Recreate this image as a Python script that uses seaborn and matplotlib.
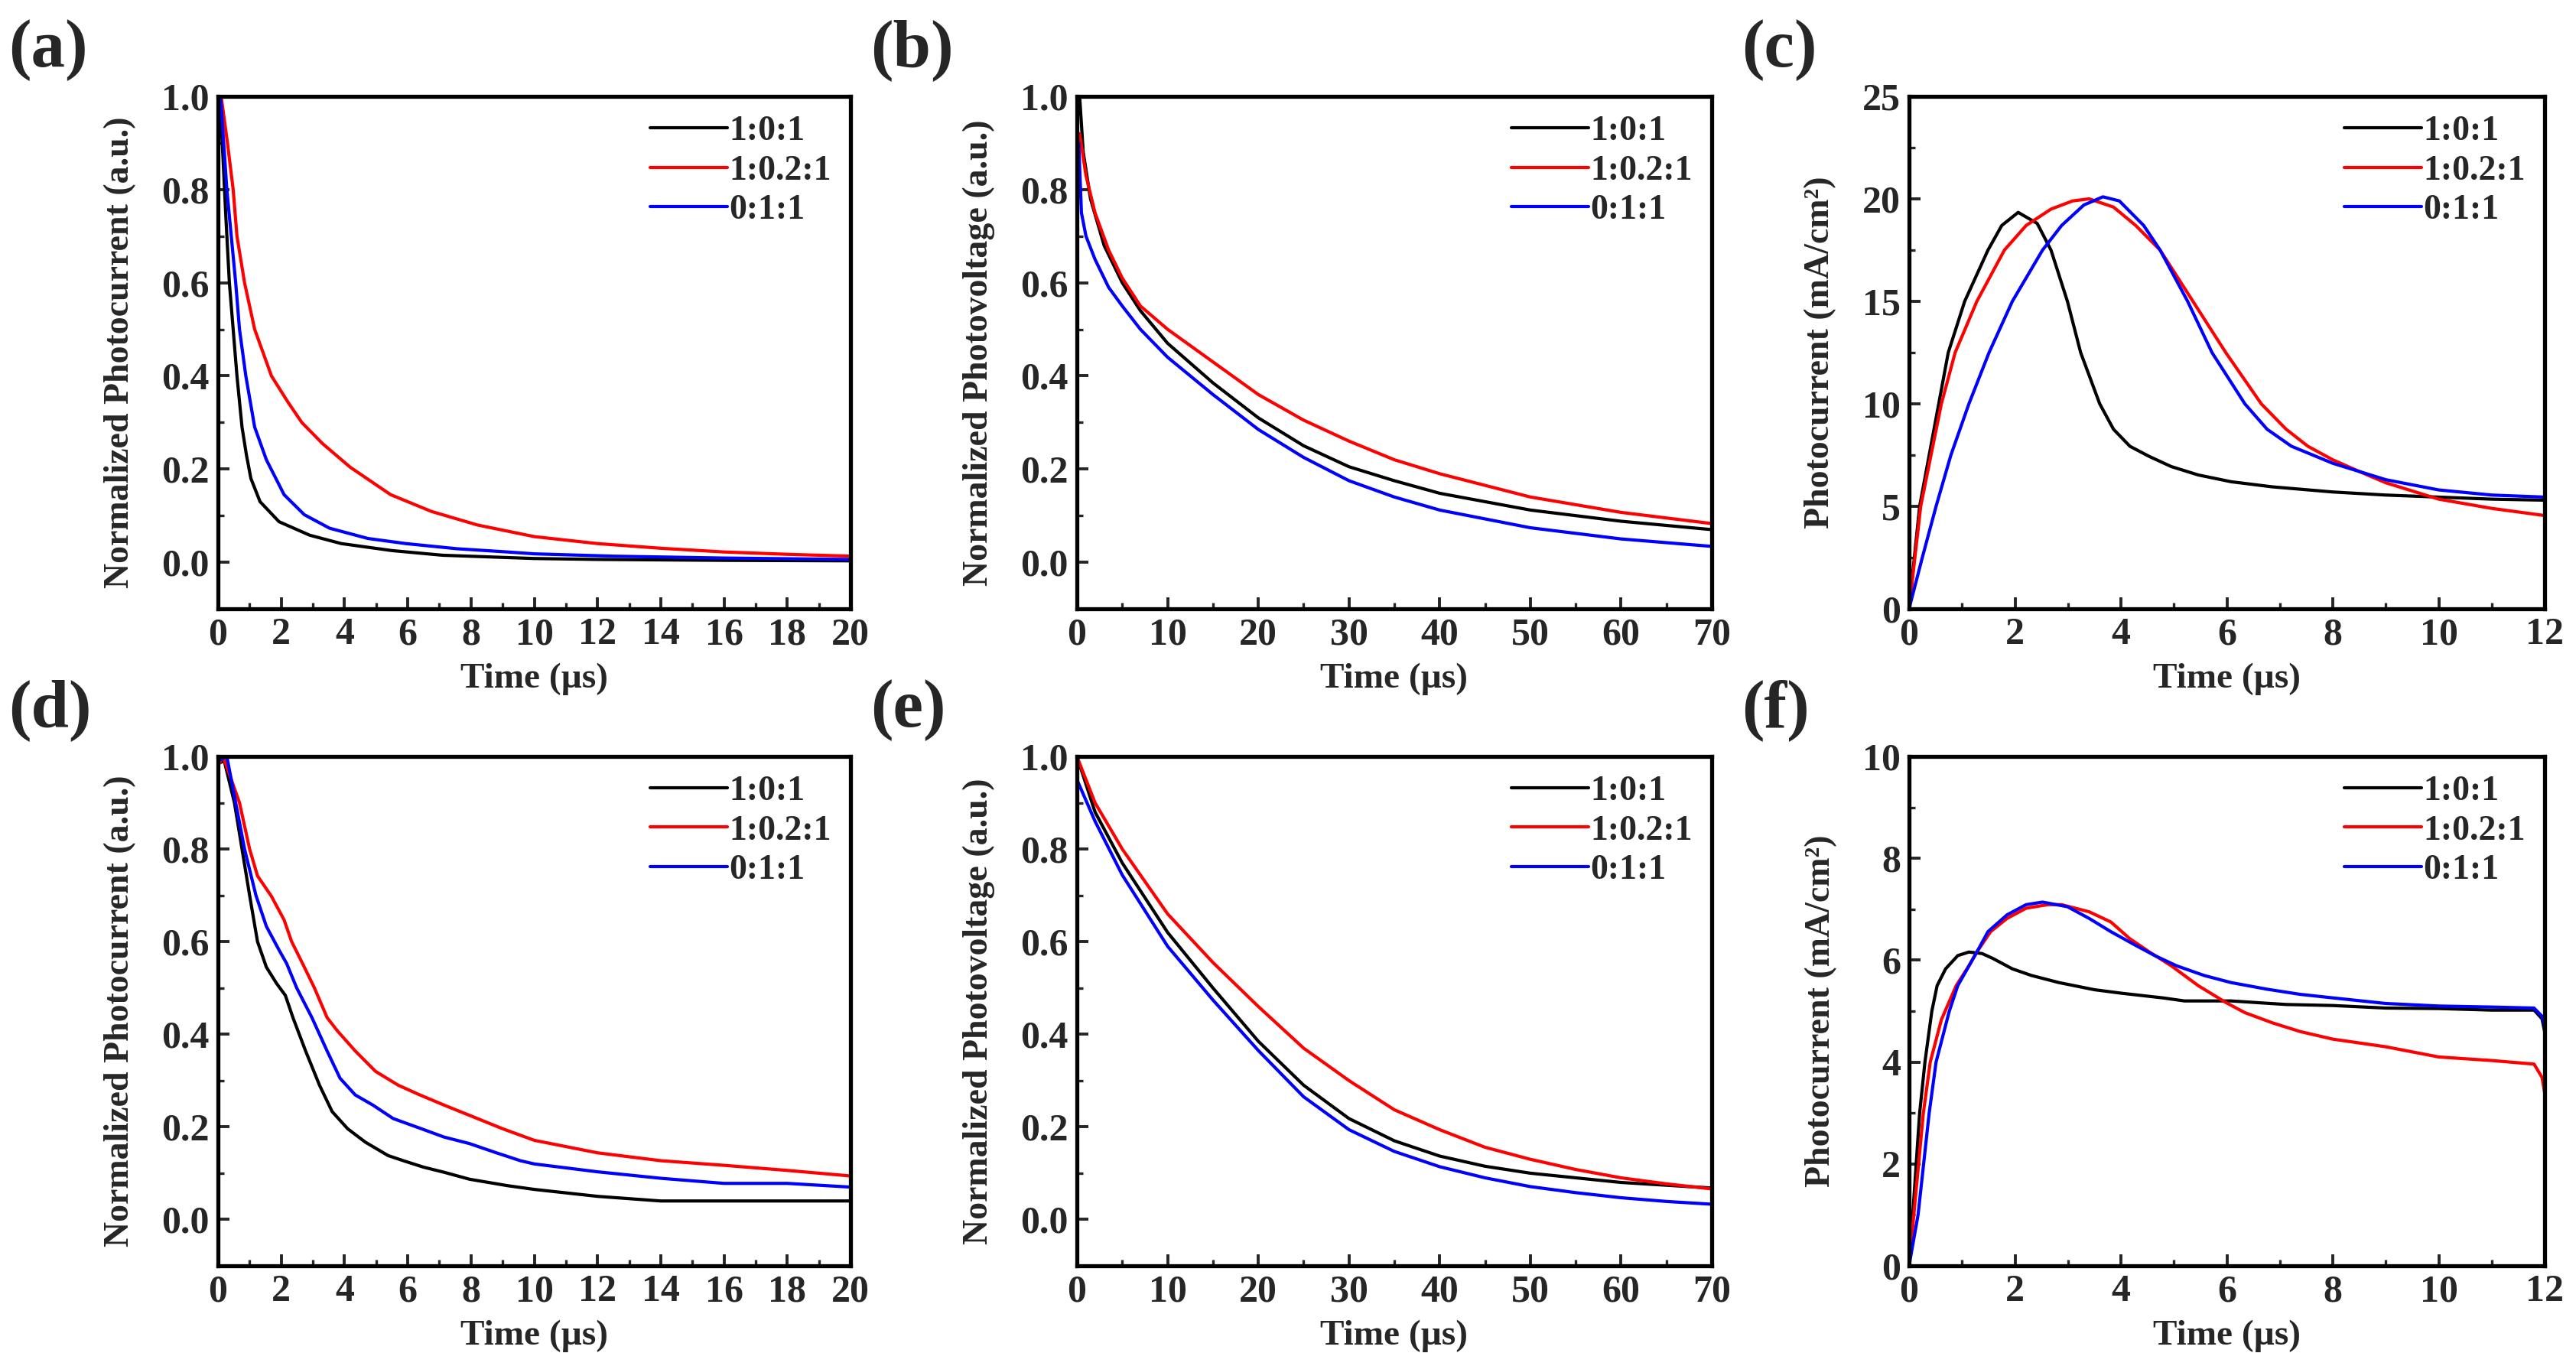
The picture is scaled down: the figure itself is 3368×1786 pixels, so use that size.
import numpy as np
import pandas as pd
import matplotlib
matplotlib.use("Agg")
import matplotlib.pyplot as plt
from matplotlib.ticker import MultipleLocator, FormatStrFormatter
import seaborn as sns

# ---------------- data ----------------
series_names = ["1:0:1", "1:0.2:1", "0:1:1"]
series_colors = ["#000000", "#ff0000", "#0000ff"]
panel_letters = ["(a)", "(b)", "(c)", "(d)", "(e)", "(f)"]

# (a) normalized photocurrent, 0-20 us
a_black_t = [0.05, 0.15, 0.25, 0.36, 0.48, 0.6, 0.76, 0.9, 1.04, 1.33, 1.93, 2.9, 3.9, 5.5, 7.1, 8.75, 10, 12, 14, 16, 20]
a_black = [1.0, 0.88, 0.74, 0.6, 0.5, 0.4, 0.29, 0.23, 0.18, 0.13, 0.087, 0.058, 0.04, 0.025, 0.015, 0.011, 0.008, 0.006, 0.005, 0.004, 0.003]
a_red_t = [0.1, 0.3, 0.48, 0.6, 0.84, 1.16, 1.69, 2.2, 2.65, 3.3, 4.18, 5.46, 6.75, 8.2, 10, 12, 14, 16, 18, 20]
a_red = [1.0, 0.9, 0.8, 0.7, 0.6, 0.5, 0.4, 0.345, 0.3, 0.255, 0.204, 0.145, 0.109, 0.08, 0.055, 0.04, 0.03, 0.022, 0.017, 0.013]
a_blue_t = [0.08, 0.18, 0.28, 0.42, 0.56, 0.68, 0.88, 1.16, 1.53, 2.09, 2.73, 3.53, 4.74, 5.94, 7.55, 9.16, 10, 12.5, 16, 20]
a_blue = [1.0, 0.9, 0.8, 0.7, 0.6, 0.5, 0.4, 0.29, 0.22, 0.145, 0.102, 0.073, 0.051, 0.04, 0.029, 0.022, 0.018, 0.013, 0.009, 0.006]

# (b) normalized photovoltage, 0-70 us
b_black_t = [0.3, 0.7, 1.5, 3, 5, 7, 10, 15, 20, 25, 30, 35, 40, 50, 60, 70]
b_black = [1.0, 0.88, 0.78, 0.68, 0.6, 0.54, 0.47, 0.385, 0.31, 0.25, 0.205, 0.175, 0.148, 0.112, 0.088, 0.07]
b_red_t = [0.3, 1, 2, 3.5, 5, 7, 10, 15, 20, 25, 30, 35, 40, 50, 60, 70]
b_red = [0.92, 0.83, 0.75, 0.67, 0.61, 0.55, 0.5, 0.43, 0.36, 0.305, 0.26, 0.22, 0.19, 0.14, 0.107, 0.083]
b_blue_t = [0.2, 0.5, 1, 2, 3.5, 5, 7, 10, 15, 20, 25, 30, 35, 40, 50, 60, 70]
b_blue = [0.9, 0.75, 0.7, 0.65, 0.59, 0.55, 0.5, 0.44, 0.36, 0.285, 0.225, 0.175, 0.14, 0.112, 0.074, 0.05, 0.034]

# (c) photocurrent transient, 0-12 us
c_black_t = [0, 0.2, 0.56, 0.74, 1.05, 1.49, 1.75, 2.06, 2.42, 2.68, 2.99, 3.24, 3.6, 3.86, 4.17, 4.53, 4.95, 5.46, 6.08, 6.86, 8.0, 9, 10, 11, 12]
c_black = [0, 5, 10, 12.5, 15, 17.5, 18.7, 19.34, 18.8, 17.5, 15, 12.5, 10, 8.76, 7.93, 7.44, 6.94, 6.53, 6.2, 5.95, 5.7, 5.55, 5.45, 5.35, 5.3]
c_red_t = [0, 0.22, 0.61, 0.87, 1.28, 1.8, 2.21, 2.68, 3.09, 3.4, 3.86, 4.28, 4.74, 5.36, 5.98, 6.65, 7.12, 7.53, 8.0, 8.5, 9, 10, 11, 12]
c_red = [0, 5, 10, 12.5, 15, 17.5, 18.7, 19.5, 19.9, 20.0, 19.6, 18.7, 17.5, 15, 12.5, 10, 8.76, 7.93, 7.27, 6.7, 6.15, 5.35, 4.9, 4.55]
c_blue_t = [0, 0.25, 0.51, 0.79, 1.13, 1.51, 1.95, 2.52, 2.88, 3.3, 3.66, 3.97, 4.43, 4.74, 5.26, 5.72, 6.34, 6.76, 7.22, 8.0, 8.5, 9, 10, 11, 12]
c_blue = [0, 2.5, 5, 7.5, 10, 12.5, 15, 17.5, 18.7, 19.7, 20.1, 19.9, 18.7, 17.5, 15, 12.5, 10, 8.76, 7.93, 7.1, 6.7, 6.3, 5.8, 5.55, 5.45]

# (d) normalized photocurrent, 0-20 us
d_black_t = [0, 0.2, 0.52, 0.76, 1.0, 1.25, 1.53, 1.85, 2.13, 2.37, 2.77, 3.21, 3.61, 4.1, 4.66, 5.38, 5.86, 6.5, 7.15, 7.95, 9.16, 10, 12, 14, 16, 18, 20]
d_black = [0.985, 0.99, 0.9, 0.8, 0.7, 0.6, 0.545, 0.51, 0.484, 0.436, 0.364, 0.29, 0.233, 0.196, 0.167, 0.138, 0.127, 0.113, 0.102, 0.087, 0.073, 0.065, 0.05, 0.04, 0.04, 0.04, 0.04]
d_red_t = [0, 0.16, 0.68, 1.0, 1.25, 1.69, 2.09, 2.33, 2.73, 3.05, 3.45, 3.78, 4.34, 4.98, 5.7, 6.35, 7.15, 7.95, 9.0, 10, 12, 14, 16, 18, 20]
d_red = [0.98, 1.0, 0.9, 0.8, 0.742, 0.698, 0.647, 0.6, 0.545, 0.5, 0.436, 0.407, 0.364, 0.32, 0.29, 0.27, 0.247, 0.225, 0.196, 0.171, 0.144, 0.127, 0.117, 0.106, 0.094]
d_blue_t = [0, 0.28, 0.56, 0.84, 1.2, 1.53, 1.93, 2.17, 2.49, 2.97, 3.45, 3.86, 4.34, 4.9, 5.54, 6.43, 7.15, 7.95, 8.76, 9.56, 10, 12, 14, 16, 18, 20]
d_blue = [0.99, 1.0, 0.9, 0.8, 0.7, 0.633, 0.582, 0.553, 0.5, 0.436, 0.364, 0.305, 0.269, 0.247, 0.218, 0.196, 0.178, 0.164, 0.145, 0.127, 0.12, 0.103, 0.089, 0.078, 0.078, 0.07]

# (e) normalized photovoltage, 0-70 us
e_t = [0, 2, 5, 10, 15, 20, 25, 30, 35, 40, 45, 50, 55, 60, 65, 70]
e_black = [1.0, 0.88, 0.77, 0.62, 0.5, 0.385, 0.29, 0.218, 0.17, 0.137, 0.115, 0.1, 0.09, 0.08, 0.074, 0.068]
e_red = [1.0, 0.9, 0.8, 0.66, 0.555, 0.46, 0.37, 0.3, 0.237, 0.194, 0.156, 0.13, 0.108, 0.09, 0.077, 0.066]
e_blue = [0.95, 0.86, 0.744, 0.59, 0.474, 0.365, 0.265, 0.194, 0.147, 0.114, 0.09, 0.071, 0.058, 0.047, 0.039, 0.033]

# (f) photocurrent transient, 0-12 us
f_black_t = [0, 0.07, 0.2, 0.3, 0.43, 0.53, 0.69, 0.92, 1.13, 1.38, 1.59, 1.95, 2.31, 2.83, 3.5, 4.02, 4.79, 5.2, 6.08, 7.12, 8.0, 9, 10, 11, 11.8, 11.95, 12.0]
f_black = [0, 1.0, 3.0, 4.0, 5.0, 5.5, 5.83, 6.09, 6.16, 6.13, 6.03, 5.83, 5.7, 5.56, 5.42, 5.35, 5.26, 5.2, 5.2, 5.13, 5.11, 5.06, 5.05, 5.02, 5.02, 4.85, 4.6]
f_red_t = [0, 0.09, 0.27, 0.4, 0.61, 0.89, 1.13, 1.28, 1.54, 1.85, 2.21, 2.62, 2.88, 3.4, 3.81, 4.17, 4.54, 4.95, 5.46, 5.98, 6.34, 6.86, 7.38, 8.0, 9, 10, 11, 11.8, 11.95, 12.0]
f_red = [0, 1.0, 3.0, 4.0, 4.83, 5.5, 5.89, 6.16, 6.56, 6.82, 7.02, 7.09, 7.09, 6.95, 6.75, 6.42, 6.16, 5.89, 5.5, 5.17, 4.97, 4.77, 4.6, 4.45, 4.3, 4.1, 4.03, 3.96, 3.7, 3.4]
f_blue_t = [0, 0.17, 0.38, 0.51, 0.76, 0.92, 1.28, 1.49, 1.85, 2.21, 2.52, 2.99, 3.4, 3.81, 4.28, 4.64, 5.05, 5.57, 6.08, 6.76, 7.38, 8.0, 9, 10, 11, 11.8, 11.95, 12.0]
f_blue = [0, 1.0, 3.0, 4.0, 5.0, 5.5, 6.16, 6.56, 6.89, 7.09, 7.14, 7.05, 6.82, 6.56, 6.29, 6.09, 5.89, 5.7, 5.56, 5.43, 5.33, 5.26, 5.15, 5.1, 5.08, 5.06, 4.9, 4.7]

# ---------------- style ----------------
sns.set_theme(style="ticks")
plt.rcParams["font.family"] = ["Liberation Serif", "DejaVu Serif"]
plt.rcParams["font.weight"] = "bold"
plt.rcParams["axes.labelweight"] = "bold"

TICK_FS = 36
LABEL_FS = 33
LEG_FS = 33
W, H = 3368, 1786
fig = plt.figure(figsize=(W / 100, H / 100), dpi=100)

col_px = [(285, 1112), (1408, 2238), (2496, 3327)]
row_px = [(126, 796), (989, 1655)]


def make_ax(r, c):
    x0, x1 = col_px[c]
    y0, y1 = row_px[r]
    return fig.add_axes([x0 / W, 1 - y1 / H, (x1 - x0) / W, (y1 - y0) / H])


def build_df(pairs):
    frames = []
    for name, (t, v) in zip(series_names, pairs):
        frames.append(pd.DataFrame({"t": t, "v": v, "series": name}))
    return pd.concat(frames, ignore_index=True)


panels = [
    (0, 0, [(a_black_t, a_black), (a_red_t, a_red), (a_blue_t, a_blue)],
     (0, 20), (-0.1, 1.0), 2, 1, 0.2, 0.1, "Normalized Photocurrent (a.u.)", "%.1f"),
    (0, 1, [(b_black_t, b_black), (b_red_t, b_red), (b_blue_t, b_blue)],
     (0, 70), (-0.1, 1.0), 10, 5, 0.2, 0.1, "Normalized Photovoltage (a.u.)", "%.1f"),
    (0, 2, [(c_black_t, c_black), (c_red_t, c_red), (c_blue_t, c_blue)],
     (0, 12), (0, 25), 2, 1, 5, 2.5, "Photocurrent (mA/cm²)", "%d"),
    (1, 0, [(d_black_t, d_black), (d_red_t, d_red), (d_blue_t, d_blue)],
     (0, 20), (-0.1, 1.0), 2, 1, 0.2, 0.1, "Normalized Photocurrent (a.u.)", "%.1f"),
    (1, 1, [(e_t, e_black), (e_t, e_red), (e_t, e_blue)],
     (0, 70), (-0.1, 1.0), 10, 5, 0.2, 0.1, "Normalized Photovoltage (a.u.)", "%.1f"),
    (1, 2, [(f_black_t, f_black), (f_red_t, f_red), (f_blue_t, f_blue)],
     (0, 12), (0, 10), 2, 1, 2, 1, "Photocurrent (mA/cm²)", "%d"),
]

for (r, c, pairs, xl, yl, xmaj, xmin, ymaj, ymin, ylabel, yfmt) in panels:
    ax = make_ax(r, c)
    df = build_df(pairs)
    sns.lineplot(data=df, x="t", y="v", hue="series", hue_order=series_names,
                 palette=series_colors, estimator=None, sort=False,
                 linewidth=3.0, ax=ax)
    ax.set_xlim(*xl)
    ax.set_ylim(*yl)
    ax.xaxis.set_major_locator(MultipleLocator(xmaj))
    ax.xaxis.set_minor_locator(MultipleLocator(xmin))
    ax.yaxis.set_major_locator(MultipleLocator(ymaj))
    ax.yaxis.set_minor_locator(MultipleLocator(ymin))
    ax.yaxis.set_major_formatter(FormatStrFormatter(yfmt))
    ax.tick_params(which="major", direction="in", length=11, width=2.8,
                   labelsize=TICK_FS, pad=8, top=False, right=False)
    ax.tick_params(which="minor", direction="in", length=6, width=2.4,
                   top=False, right=False)
    for lab in ax.get_xticklabels() + ax.get_yticklabels():
        lab.set_fontweight("bold")
    for sp in ax.spines.values():
        sp.set_linewidth(3.8)
        sp.set_color("black")
    ax.set_xlabel("Time (µs)", fontsize=LABEL_FS + 1, fontweight="bold", labelpad=10)
    ax.set_ylabel(ylabel, fontsize=LABEL_FS, fontweight="bold", labelpad=24)
    ax.legend(loc="upper right", frameon=False,
              prop={"weight": "bold", "size": LEG_FS},
              handlelength=2.2, handletextpad=0.05, labelspacing=0.2,
              borderaxespad=0.35, borderpad=0.2)

label_x = [11, 1138, 2277]
label_y = [66, 929]
for i, letter in enumerate(panel_letters):
    r, c = divmod(i, 3)
    fig.text(label_x[c] / W, 1 - label_y[r] / H, letter, fontsize=64,
             fontweight="bold", ha="left", va="center")

fig.savefig("out.png", dpi=100, facecolor="white")
